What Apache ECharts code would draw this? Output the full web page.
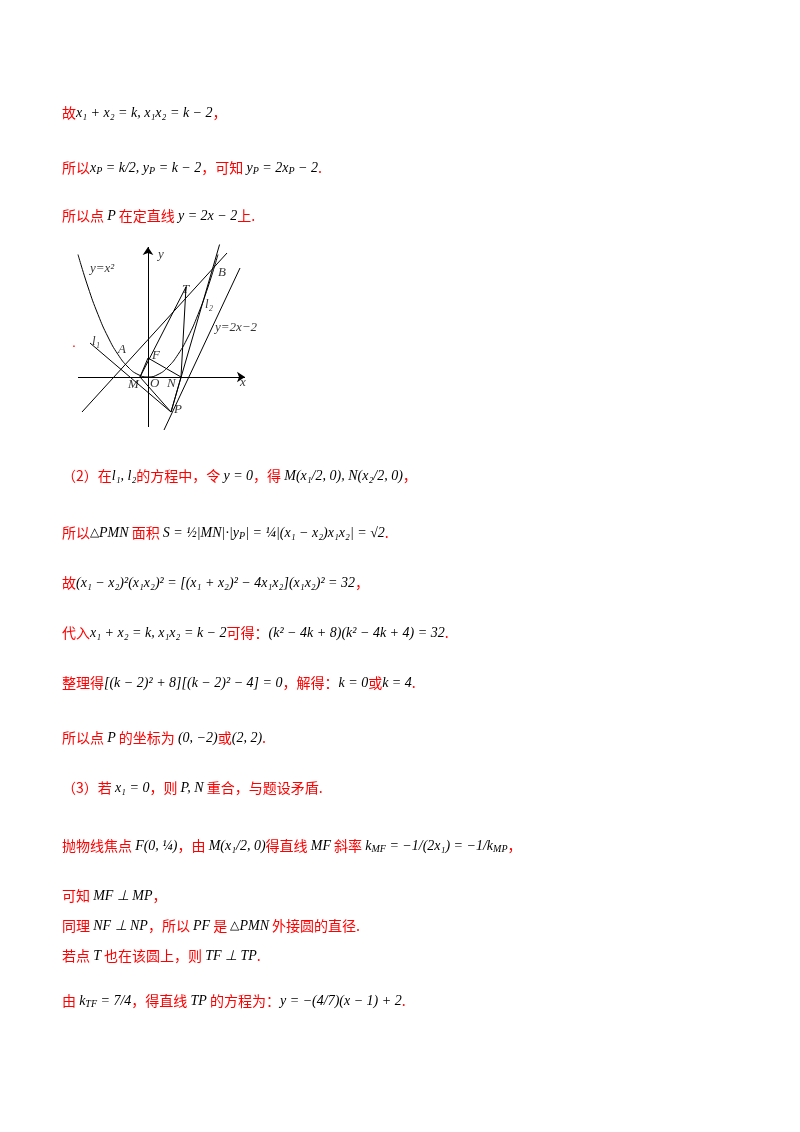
<!DOCTYPE html><html><head><meta charset="utf-8"><script src="https://cdn.jsdelivr.net/npm/echarts@6/dist/echarts.min.js"></script>
<style>html,body{margin:0;background:#fff}#c{width:800px;height:1132px}</style></head><body><div id="c"></div><script>
// diagram data (u,v units, origin at axes crossing)
const parabola=[[-70,122.5],[-60,90],[-50,62.5],[-40,40],[-30,22.5],[-20,10],[-10,2.5],[0,0],[10,2.5],[20,10],[30,22.5],[40,40],[50,62.5],[60,90],[70,122.5]];
const segs=[
 [[-66,-35],[79,124]],      // line AB
 [[-58,34],[23,-35]],       // l1 through M to P
 [[23,-35],[72,134]],       // l2 through N, B
 [[16,-53],[92,109]],       // y=2x-2
 [[38,90],[-8,0]],[[38,90],[33,0]],[[0,19],[-8,0]],[[0,19],[33,0]],[[-8,0],[23,-35]],[[33,0],[23,-35]]
];
const axes=[[[-70,0],[97,0]],[[0,-50],[0,130]]];
const diagLabels=[['y=x²',-58,108],['y',10,122],['B',70,104],['T',34,87],['l₂',57,72],['y=2x−2',67,49],['l₁',-56,35],['A',-30,27],['F',4,21],['M',-20,-8],['O',2,-7],['N',19,-7],['x',92,-6],['P',26,-33]];
const c=echarts.init(document.getElementById('c'));
const R='#ff0000';
const rich={r:{fill:R,fontSize:14,fontFamily:'Noto Sans CJK SC'},m:{fill:'#000',fontSize:14,fontStyle:'italic',fontFamily:'Liberation Serif'},n:{fill:'#000',fontSize:10,fontStyle:'italic',fontFamily:'Liberation Serif',padding:[6,0,0,0]},t:{fill:'#000',fontSize:12,fontFamily:'Liberation Serif'}};
const lines=[
 [62,115,'{r|故}{m|x₁ + x₂ = k, x₁x₂ = k − 2}{r|，}'],
 [62,170,'{r|所以}{m|x}{n|P}{m| = k/2, y}{n|P}{m| = k − 2}{r|，可知 }{m|y}{n|P}{m| = 2x}{n|P}{m| − 2}{r|.}'],
 [62,218,'{r|所以点 }{m|P}{r| 在定直线 }{m|y = 2x − 2}{r|上.}'],
 [62,478,'{r|（2）在}{m|l₁, l₂}{r|的方程中，令 }{m|y = 0}{r|，得 }{m|M(x₁/2, 0), N(x₂/2, 0)}{r|，}'],
 [62,535,'{r|所以}{t|△}{m|PMN}{r| 面积 }{m|S = ½|MN|·|y}{n|P}{m|| = ¼|(x₁ − x₂)x₁x₂| = √2}{r|.}'],
 [62,585,'{r|故}{m|(x₁ − x₂)²(x₁x₂)² = [(x₁ + x₂)² − 4x₁x₂](x₁x₂)² = 32}{r|，}'],
 [62,635,'{r|代入}{m|x₁ + x₂ = k, x₁x₂ = k − 2}{r|可得：}{m|(k² − 4k + 8)(k² − 4k + 4) = 32}{r|.}'],
 [62,685,'{r|整理得}{m|[(k − 2)² + 8][(k − 2)² − 4] = 0}{r|，解得：}{m|k = 0}{r|或}{m|k = 4}{r|.}'],
 [62,740,'{r|所以点 }{m|P}{r| 的坐标为 }{m|(0, −2)}{r|或}{m|(2, 2)}{r|.}'],
 [62,790,'{r|（3）若 }{m|x₁ = 0}{r|，则 }{m|P, N}{r| 重合，与题设矛盾.}'],
 [62,848,'{r|抛物线焦点 }{m|F(0, ¼)}{r|，由 }{m|M(x₁/2, 0)}{r|得直线 }{m|MF}{r| 斜率 }{m|k}{n|MF}{m| = −1/(2x₁) = −1/k}{n|MP}{r|，}'],
 [62,898,'{r|可知 }{m|MF ⊥ MP}{r|，}'],
 [62,928,'{r|同理 }{m|NF ⊥ NP}{r|，所以 }{m|PF}{r| 是 }{t|△}{m|PMN}{r| 外接圆的直径.}'],
 [62,958,'{r|若点 }{m|T}{r| 也在该圆上，则 }{m|TF ⊥ TP}{r|.}'],
 [62,1003,'{r|由 }{m|k}{n|TF}{m| = 7/4}{r|，得直线 }{m|TP}{r| 的方程为：}{m|y = −(4/7)(x − 1) + 2}{r|.}']
];
const graphic=lines.map(l=>({type:'text',left:l[0],top:l[1]-9,style:{text:l[2],rich:rich}}));
graphic.push({type:'text',left:72,top:336,style:{text:'.',fill:R,fontSize:14}});
const ls={color:'#000',width:1,opacity:1};
const series=[{type:'line',data:parabola,smooth:true,symbol:'none',lineStyle:ls,silent:true},
 {type:'lines',coordinateSystem:'cartesian2d',data:segs.map(s=>({coords:s})),lineStyle:ls,silent:true},
 {type:'lines',coordinateSystem:'cartesian2d',data:axes.map(s=>({coords:s})),symbol:['none','arrow'],symbolSize:8,lineStyle:ls,itemStyle:{color:'#000'},silent:true},
 {type:'scatter',data:diagLabels.map(d=>({value:[d[1],d[2]],name:d[0]})),symbolSize:0,silent:true,
  label:{show:true,formatter:p=>p.name,position:'right',distance:0,fontFamily:'Liberation Serif',fontStyle:'italic',fontSize:13,color:'#000'}}];
c.setOption({animation:false,graphic:graphic,
 grid:{left:70,right:550,top:245,bottom:700},
 xAxis:{type:'value',min:-78,max:102,show:false},
 yAxis:{type:'value',min:-55,max:132,show:false},
 series:series});
</script></body></html>
